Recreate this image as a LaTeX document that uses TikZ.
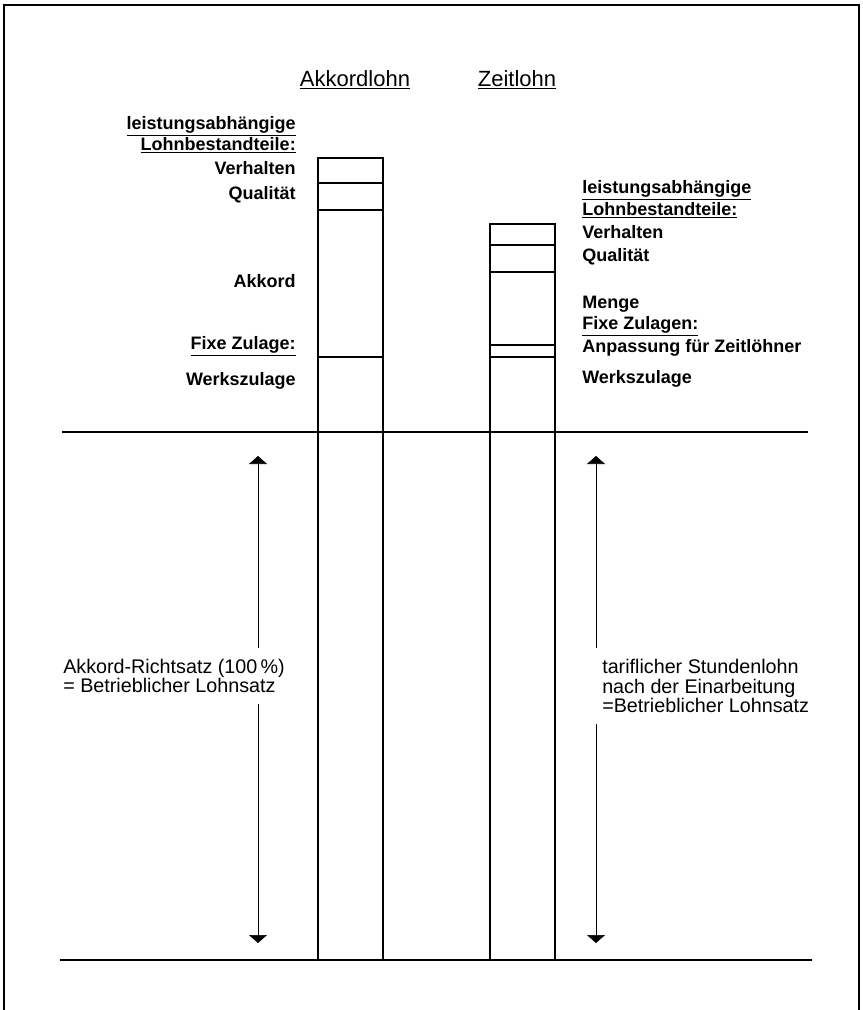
\documentclass[tikz,border=0pt]{standalone}
\usepackage{fontspec}
\setmainfont{Liberation Sans}
\usetikzlibrary{arrows.meta}

\begin{document}
\begin{tikzpicture}[x=0.75pt,y=-0.75pt,>={Triangle[width=13.5pt,length=6pt]},
	heading/.style={font=\fontsize{16.5}{18}\selectfont,inner sep=0pt},
	part/.style={font=\bfseries\fontsize{13.5}{14}\selectfont,inner sep=0pt},
	note/.style={font=\fontsize{14.8}{14.8}\selectfont,inner sep=0pt,align=left},
	bar/.style={line width=1.5pt},
	rule/.style={line width=1.1pt}]

	\useasboundingbox (0,0) rectangle (863,1010);
	\draw[line width=1.5pt] (4,1010) -- (4,5) -- (859,5) -- (859,1010);

	% headings
	\node[heading] (akk) at (355,80) {\underline{Akkordlohn}};
	\node[heading] (zeit) at (517,80) {\underline{Zeitlohn}};

	% the two bars
	\draw[bar] (318,158) rectangle (383,960);
	\foreach \y in {183,210,357}
		\draw[bar] (318,\y) -- (383,\y);
	\draw[bar] (490,224) rectangle (555,960);
	\foreach \y in {245,272,345,357}
		\draw[bar] (490,\y) -- (555,\y);

	\draw[rule] (62,432) -- (808,432);
	\draw[rule] (60,960) -- (812,960);

	% Akkordlohn parts
	\foreach \name/\y/\txt in {aleist/126/\underline{leistungsabhängige}, alohn/145/\underline{Lohnbestandteile:},
			averh/168/Verhalten, aqual/195/Qualität, aakk/281/Akkord,
			afix/346/\underline{Fixe Zulage:}, awerk/381/Werkszulage}
		\node[part,anchor=east] (\name) at (296,\y) {\txt};

	% Zeitlohn parts
	\foreach \name/\y/\txt in {zleist/190/\underline{leistungsabhängige}, zlohn/210/\underline{Lohnbestandteile:},
			zverh/232/Verhalten, zqual/257/Qualität, zmenge/304/Menge,
			zfix/326/\underline{Fixe Zulagen:}, zanp/348/Anpassung für Zeitlöhner, zwerk/379/Werkszulage}
		\node[part,anchor=west] (\name) at (582,\y) {\txt};

	% Richtsatz arrows
	\coordinate (lup) at (258,456);
	\coordinate (ldown) at (258,943);
	\coordinate (rup) at (596,456);
	\coordinate (rdown) at (596,943);
	\node[note,anchor=west] (lnote) at (63,676) {Akkord-Richtsatz (100\,\%)\\= Betrieblicher Lohnsatz};
	\node[note,anchor=west] (rnote) at (602,686) {tariflicher Stundenlohn\\nach der Einarbeitung\\=Betrieblicher Lohnsatz};
	\draw[->,shorten <=8pt] (lnote.north -| lup) -- (lup);
	\draw[->,shorten <=8pt] (lnote.south -| ldown) -- (ldown);
	\draw[->,shorten <=8pt] (rnote.north -| rup) -- (rup);
	\draw[->,shorten <=8pt] (rnote.south -| rdown) -- (rdown);
\end{tikzpicture}
\end{document}
